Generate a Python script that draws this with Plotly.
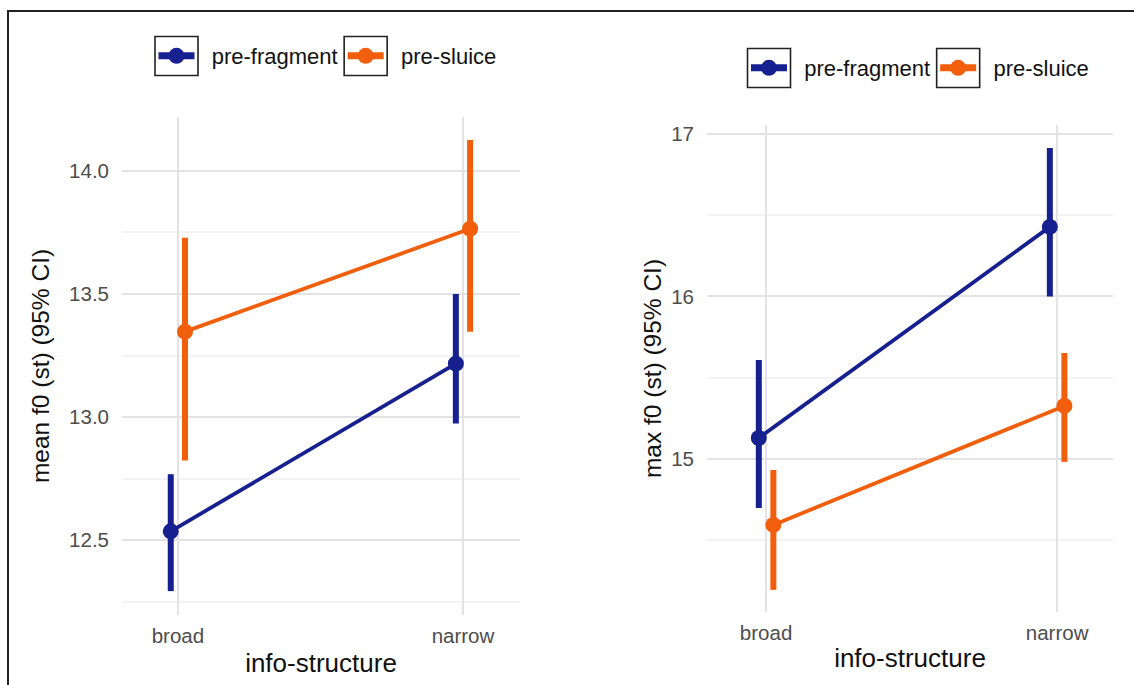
import plotly.graph_objects as go

W, H = 1134, 685

categories = ["broad", "narrow"]
series = ["pre-fragment", "pre-sluice"]

# left panel: mean f0
mean_prefrag = [12.536, 13.217]
mean_prefrag_lo = [12.293, 12.974]
mean_prefrag_hi = [12.768, 13.500]
mean_presl = [13.347, 13.765]
mean_presl_lo = [12.824, 13.347]
mean_presl_hi = [13.728, 14.126]

# right panel: max f0
max_prefrag = [15.129, 16.428]
max_prefrag_lo = [14.698, 16.000]
max_prefrag_hi = [15.609, 16.914]
max_presl = [14.594, 15.326]
max_presl_lo = [14.194, 14.982]
max_presl_hi = [14.932, 15.652]

colors = {"pre-fragment": "#17208f", "pre-sluice": "#f25f0c"}
dodge = {"pre-fragment": -0.025, "pre-sluice": 0.025}

FONT = "Liberation Sans, Arial, sans-serif"
LEG_SIZE = 22
ITEMW = 36
NBSP = "\u00a0\u00a0"


def px(x):
    return x / W


def py(y):
    return 1 - y / H


fig = go.Figure()

panels = [
    ("x", "y", "legend", {
        "pre-fragment": (mean_prefrag, mean_prefrag_lo, mean_prefrag_hi),
        "pre-sluice": (mean_presl, mean_presl_lo, mean_presl_hi)}),
    ("x2", "y2", "legend2", {
        "pre-fragment": (max_prefrag, max_prefrag_lo, max_prefrag_hi),
        "pre-sluice": (max_presl, max_presl_lo, max_presl_hi)}),
]

for xa, ya, lg, data in panels:
    for s in series:
        m, lo, hi = data[s]
        xs = [i + 1 + dodge[s] for i in range(len(categories))]
        fig.add_trace(go.Scatter(
            x=xs, y=m, mode="lines+markers", name=s,
            xaxis=xa, yaxis=ya, showlegend=False, legendgroup=lg + s,
            line=dict(color=colors[s], width=3.8),
            marker=dict(color=colors[s], size=16),
            error_y=dict(type="data", symmetric=False,
                         array=[h - v for h, v in zip(hi, m)],
                         arrayminus=[v - l for v, l in zip(m, lo)],
                         color=colors[s], thickness=6, width=0),
            hoverinfo="skip",
        ))
    # legend entries (ggplot-like keys: thick line + big point)
    for s in series:
        fig.add_trace(go.Scatter(
            x=[None], y=[None], mode="lines+markers", name=NBSP + s,
            xaxis=xa, yaxis=ya, legend=lg, legendgroup=lg + s, showlegend=True,
            line=dict(color=colors[s], width=7),
            marker=dict(color=colors[s], size=18),
            hoverinfo="skip",
        ))

tickfont = dict(family=FONT, size=20.5, color="#4d4d4d")
xtitlefont = dict(family=FONT, size=26, color="#111111")
ytitlefont = dict(family=FONT, size=24.5, color="#111111")
grid = "#e3e3e3"
minor_grid = "#f3f3f3"

common_x = dict(tickmode="array", tickvals=[1, 2], ticktext=categories,
                showgrid=True, gridcolor=grid, gridwidth=1.5, zeroline=False,
                showline=False, ticks="", tickfont=tickfont, automargin=False,
                fixedrange=True, ticklabelstandoff=6)
common_y = dict(showgrid=True, gridcolor=grid, gridwidth=1.5, zeroline=False,
                showline=False, ticks="", tickfont=tickfont, automargin=False,
                fixedrange=True, ticklabelstandoff=12)

legend_common = dict(orientation="h", xanchor="left", yanchor="middle",
                     font=dict(family=FONT, size=LEG_SIZE, color="#111111"),
                     bgcolor="rgba(0,0,0,0)", itemwidth=ITEMW,
                     traceorder="normal", borderwidth=0, itemclick=False,
                     itemdoubleclick=False)

# legend first-key centres (pixels)
leg1_cx, leg1_cy = 176.5, 56
leg2_cx, leg2_cy = 769, 68

fig.update_layout(
    width=W, height=H,
    margin=dict(l=0, r=0, t=0, b=0),
    paper_bgcolor="white", plot_bgcolor="white",
    font=dict(family=FONT),
    xaxis=dict(common_x, domain=[px(122), px(520)], range=[0.804, 2.2],
               anchor="y", title=dict(text="info-structure", font=xtitlefont, standoff=8)),
    yaxis=dict(common_y, domain=[py(615), py(117)], range=[12.196, 14.219],
               tickvals=[12.5, 13.0, 13.5, 14.0], ticktext=["12.5", "13.0", "13.5", "14.0"],
               minor=dict(tickvals=[12.25, 12.75, 13.25, 13.75], showgrid=True,
                          gridcolor=minor_grid, gridwidth=1.5),
               anchor="x", title=dict(text="mean f0 (st) (95% CI)", font=ytitlefont, standoff=12)),
    xaxis2=dict(common_x, domain=[px(707), px(1113)], range=[0.797, 2.192],
                anchor="y2", title=dict(text="info-structure", font=xtitlefont, standoff=6)),
    yaxis2=dict(common_y, domain=[py(612), py(125)], range=[14.058, 17.055],
                tickvals=[15, 16, 17], ticktext=["15", "16", "17"],
                minor=dict(tickvals=[14.5, 15.5, 16.5], showgrid=True,
                           gridcolor=minor_grid, gridwidth=1.5),
                anchor="x2", title=dict(text="max f0 (st) (95% CI)", font=ytitlefont, standoff=2)),
    legend=dict(legend_common, x=px(leg1_cx - (ITEMW / 2 + 5)), y=py(leg1_cy)),
    legend2=dict(legend_common, x=px(leg2_cx - (ITEMW / 2 + 5)), y=py(leg2_cy)),
    showlegend=True,
)

# key boxes around legend symbols (ggplot-style boxed keys)
def text_w(s):
    widths = {"p": .556, "r": .333, "e": .556, "-": .333, "f": .278, "a": .556,
              "g": .556, "m": .833, "n": .556, "t": .278, "s": .5, "l": .222,
              "u": .556, "i": .222, "c": .5, "\u00a0": .278}
    return sum(widths.get(ch, .556) for ch in s) * LEG_SIZE

for cx, cy in [(leg1_cx, leg1_cy), (leg2_cx, leg2_cy)]:
    cx2 = cx + (ITEMW / 2 + 5) + text_w(NBSP + series[0]) + 5 + (ITEMW / 2 + 5)
    for c in (cx, cx2):
        fig.add_shape(type="rect", xref="paper", yref="paper",
                      x0=px(c - 21.5), x1=px(c + 21.5), y0=py(cy + 19.5), y1=py(cy - 19.5),
                      line=dict(color="#222222", width=1.6), fillcolor="rgba(0,0,0,0)")

# outer frame
fig.add_shape(type="rect", xref="paper", yref="paper",
              x0=px(8), x1=1.05, y0=-0.05, y1=py(11),
              line=dict(color="#222222", width=2), fillcolor="rgba(0,0,0,0)", layer="above")

fig.write_html("out.html")
